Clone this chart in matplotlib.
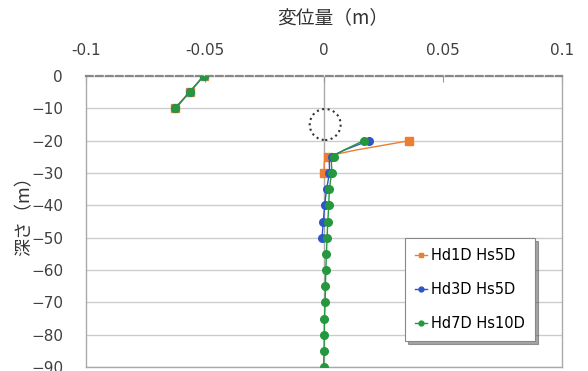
import numpy as np
import matplotlib
matplotlib.use('Agg')
import matplotlib.pyplot as plt
from matplotlib.patches import Ellipse, PathPatch
from matplotlib.path import Path

plt.rcParams['font.family'] = ['DejaVu Sans', 'Noto Sans CJK JP']

# depth (m) and displacement (m); NaN breaks the line between the two parts
depth = [0, -5, -10, -15, -20, -25, -30, -35, -40, -45, -50,
         -55, -60, -65, -70, -75, -80, -85, -90]
hd1_hs5 = [-0.0506, -0.0565, -0.0628, np.nan, 0.0359, 0.0015, 0.0,
           np.nan, np.nan, np.nan, np.nan, np.nan, np.nan, np.nan,
           np.nan, np.nan, np.nan, np.nan, np.nan]
hd3_hs5 = [-0.0506, -0.0565, -0.0625, np.nan, 0.0187, 0.0032, 0.0023,
           0.0011, 0.0003, -0.0003, -0.0008, np.nan, np.nan, np.nan,
           np.nan, np.nan, np.nan, np.nan, np.nan]
hd7_hs10 = [-0.0506, -0.0565, -0.0624, np.nan, 0.0166, 0.0040, 0.0032,
            0.0023, 0.0020, 0.0016, 0.0013, 0.0010, 0.0008, 0.0006,
            0.0005, 0.0002, 0.0001, 0.0, -0.0002]

series = [
    ('Hd1D Hs5D', hd1_hs5, '#ED7D31', 's'),
    ('Hd3D Hs5D', hd3_hs5, '#2F56C6', 'o'),
    ('Hd7D Hs10D', hd7_hs10, '#25973F', 'o'),
]

xticks = [-0.1, -0.05, 0, 0.05, 0.1]
xticklabels = ['-0.1', '-0.05', '0', '0.05', '0.1']
yticks = list(range(0, -91, -10))

# rough pixel scale of the axes, used so the smoothing looks right on screen
SX = 476 / 0.2
SY = 291 / 90.0


def smooth_path(xs, ys):
    # Bezier path through the points, like a spreadsheet "smoothed line";
    # handles are clamped so short segments do not loop
    pts = np.column_stack([np.asarray(xs) * SX, np.asarray(ys) * SY])
    n = len(pts)
    verts, codes = [pts[0]], [Path.MOVETO]
    for i in range(n - 1):
        p0 = pts[max(i - 1, 0)]
        p1 = pts[i]
        p2 = pts[i + 1]
        p3 = pts[min(i + 2, n - 1)]
        seg = np.hypot(*(p2 - p1))
        h1 = (p2 - p0) / 6.0
        h2 = (p3 - p1) / 6.0
        for h in (h1, h2):
            ln = np.hypot(*h)
            if ln > seg / 3.0 and ln > 0:
                h *= (seg / 3.0) / ln
        verts += [p1 + h1, p2 - h2, p2]
        codes += [Path.CURVE4] * 3
    verts = np.array(verts) / [SX, SY]
    return Path(verts, codes)


fig = plt.figure(figsize=(5.88, 3.71), dpi=100)
ax = fig.add_axes([86 / 588, 4 / 371, 476 / 588, 291 / 371])

for name, vals, col, mk in series:
    v = np.array(vals, dtype=float)
    d = np.array(depth, dtype=float)
    idx = np.where(~np.isnan(v))[0]
    runs = np.split(idx, np.where(np.diff(idx) != 1)[0] + 1)
    for r in runs:
        if len(r) > 1:
            ax.add_patch(PathPatch(smooth_path(v[r], d[r]), fill=False,
                                   edgecolor=col, lw=1.0, zorder=3))
    ax.plot(v, d, ls='none', color=col, marker=mk, markersize=5.5,
            zorder=3)
    ax.plot([], [], color=col, lw=1.0, marker=mk, markersize=3.5,
            label=name)

ax.set_xlim(-0.1, 0.1)
ax.set_ylim(-90, 0)
ax.set_xticks(xticks)
ax.set_xticklabels(xticklabels)
ax.set_yticks(yticks)
ax.xaxis.tick_top()
ax.tick_params(axis='x', top=True, bottom=False, direction='in', length=4,
               color='#999999', labelsize=11, pad=13, labelcolor='#404040')
ax.tick_params(axis='y', left=False, labelsize=11, pad=13,
               labelcolor='#404040')

ax.grid(axis='y', color='#cccccc', lw=1.0, zorder=0)
ax.axvline(0, color='#aaaaaa', lw=1.0, zorder=1)

for side in ['left', 'right', 'bottom']:
    ax.spines[side].set_color('#aaaaaa')
    ax.spines[side].set_linewidth(1.0)
ax.spines['top'].set_color('#888888')
ax.spines['top'].set_linewidth(1.6)
ax.spines['top'].set_linestyle((0, (3, 1.5)))

# dotted circle marking the gap
circ = Ellipse((0.0005, -15), 0.013, 9.6, fill=False, ls=':', lw=1.5,
               edgecolor='#333333', zorder=4)
ax.add_patch(circ)

leg = ax.legend(loc='upper left', bbox_to_anchor=(0.670, 0.443),
                fontsize=10.5, frameon=True, fancybox=False, shadow=True,
                handlelength=0.8, handletextpad=0.3, borderpad=0.7,
                labelspacing=1.3, borderaxespad=0)
leg.get_frame().set_edgecolor('#888888')
leg.get_frame().set_linewidth(0.8)

fig.text(333 / 588, 1 - 18 / 371, '変位量（m）', ha='center', va='center',
         fontsize=13.5, color='#333333', family=['Noto Sans CJK JP'])
fig.text(25 / 588, 1 - 212 / 371, '深さ（m）', ha='center', va='center',
         rotation=90, fontsize=13, color='#333333',
         family=['Noto Sans CJK JP'])

fig.savefig('out.png', dpi=100)
